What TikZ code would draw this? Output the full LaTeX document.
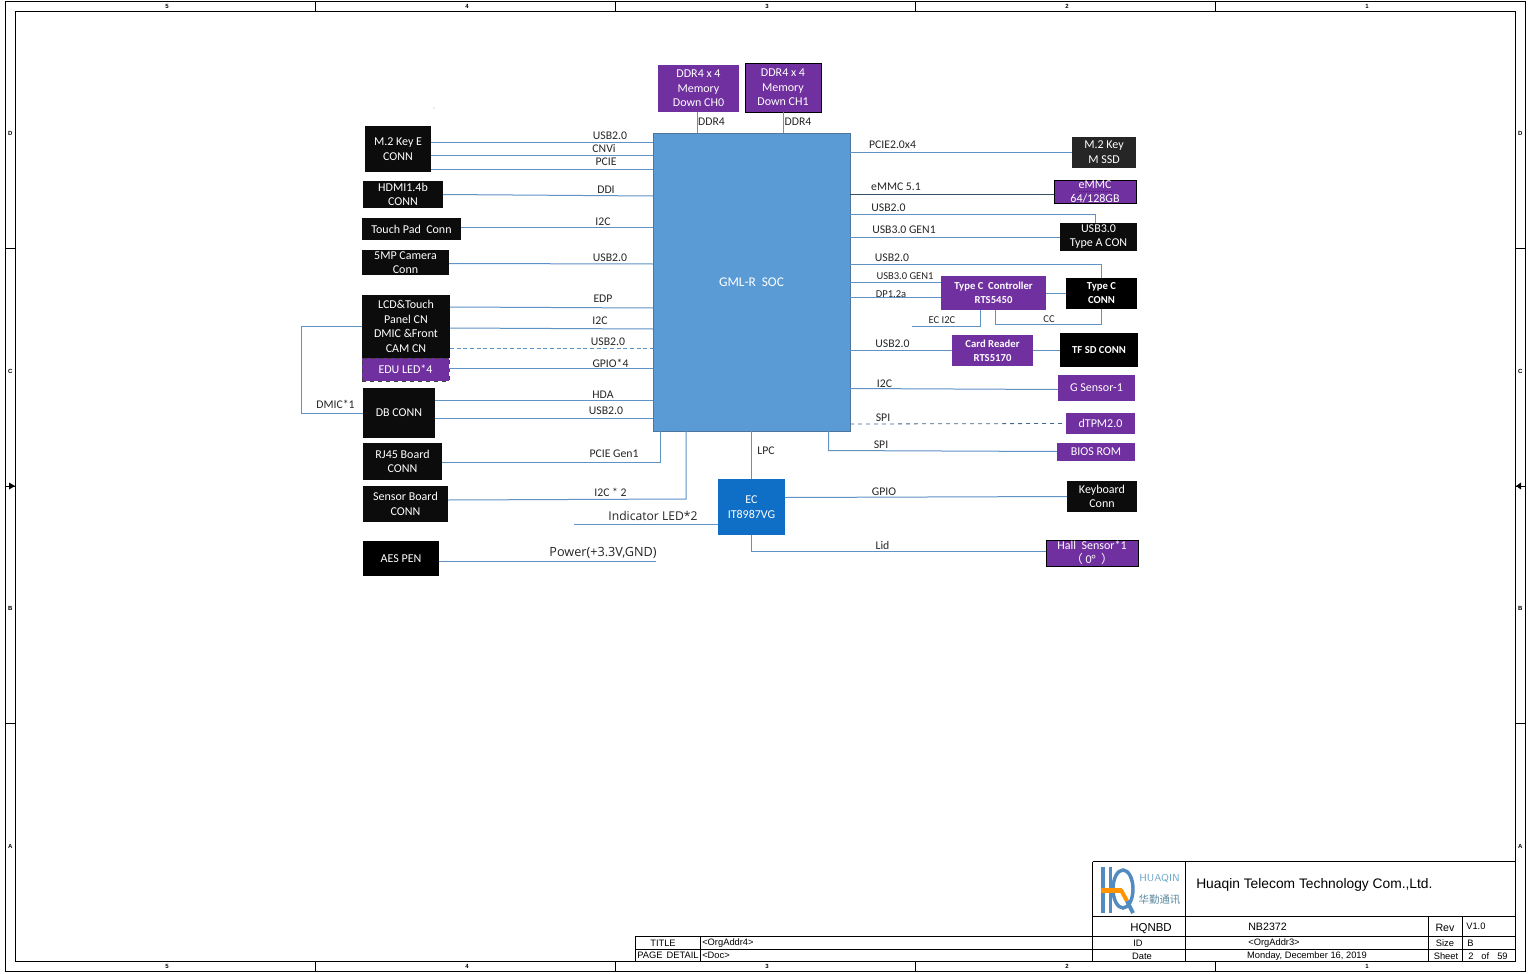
\documentclass[tikz,border=0pt]{standalone}
\usepackage{fontspec}
\setmainfont{Carlito}
\newfontfamily\tbfont{Liberation Sans}
\newfontfamily\cjkfont{Noto Sans CJK SC}
\newfontfamily\openfont{Open Sans}
\usetikzlibrary{calc}
\definecolor{socblue}{HTML}{5B9BD5}
\definecolor{ecblue}{HTML}{0F6FC6}
\definecolor{wire}{HTML}{5F93C4}
\definecolor{purp}{HTML}{7030A0}
\definecolor{nearblack}{HTML}{0C0C0C}
\definecolor{txt}{HTML}{262626}
\definecolor{logotext}{HTML}{6FA9C8}
\newcommand{\bx}[7]{%
  \node[#6,minimum width={(#4-#2)*0.75pt},minimum height={(#5-#3)*0.75pt}] (#1) at ({(#2+#4)/2},{(#3+#5)/2}) {#7};}
\tikzset{
  x=0.75pt,y=-0.75pt,
  basebox/.style={inner sep=0pt,outer sep=0pt,align=center,text=white,font=\fontsize{9}{10.9}\selectfont},
  blk/.style={basebox,fill=nearblack},
  pur/.style={basebox,fill=purp},
  purk/.style={basebox,fill=purp,draw=black,line width=0.7pt},
  wirel/.style={draw=wire,line width=0.75pt},
  lab/.style={inner sep=0pt,text=txt,font=\fontsize{8.8}{10}\selectfont},
  frameline/.style={draw=black,line width=0.7pt},
  tb/.style={inner sep=0pt,text=black,font=\tbfont\fontsize{7}{8}\selectfont},
  tick/.style={inner sep=0pt,text=black,font=\tbfont\bfseries\fontsize{4.5}{5}\selectfont},
}
\begin{document}
\begin{tikzpicture}
\useasboundingbox (0,0) rectangle (1535,974);
\fill[white] (0,0) rectangle (1535,974);
% ---- frame
\draw[frameline] (5,1.5) rectangle (1525,971.5);
\draw[frameline] (15.5,11) rectangle (1515.7,961.5);
\foreach \x in {315,615,915,1215}{
  \draw[frameline] (\x,1.5) -- (\x,11);
  \draw[frameline] (\x,961.5) -- (\x,971.5);}
\foreach \y in {248,723}{
  \draw[frameline] (5,\y) -- (15.5,\y);
  \draw[frameline] (1515.7,\y) -- (1525,\y);}
\draw[frameline] (5,486) -- (15.5,486);
\draw[frameline] (1515.7,486) -- (1525,486);
\fill (15,486) -- (9,482.5) -- (9,489.5) -- cycle;
\fill (1516,486) -- (1521,482.5) -- (1521,489.5) -- cycle;
\foreach \x/\t in {167/5,467/4,767/3,1067/2,1367/1}{
  \node[tick] (tt\t) at (\x,6.5) {\t};
  \node[tick] (tb\t) at (\x,966.5) {\t};}
\foreach \y/\t in {133/D,371/C,608/B,846/A}{
  \node[tick] (tl\t) at (10.3,\y) {\t};
  \node[tick] (tr\t) at (1520.3,\y) {\t};}
% ---- title block
\draw[frameline] (1092.5,861.7) -- (1515.7,861.7);
\draw[frameline] (1092.5,861.7) -- (1092.5,961.5);
\draw[frameline] (1185.3,861.7) -- (1185.3,961.5);
\draw[frameline] (1092.5,916) -- (1515.7,916);
\draw[frameline] (635,936.5) -- (1515.7,936.5);
\draw[frameline] (635,949.3) -- (1515.7,949.3);
\draw[frameline] (635,936.5) -- (635,961.5);
\draw[frameline] (700.7,936.5) -- (700.7,961.5);
\draw[frameline] (1428.3,916) -- (1428.3,961.5);
\draw[frameline] (1462.3,916) -- (1462.3,961.5);
\node[tb,anchor=west,font=\tbfont\fontsize{10.35}{11}\selectfont] (company) at (1196,884.5) {Huaqin Telecom Technology Com.,Ltd.};
\node[tb,font=\tbfont\fontsize{8.6}{10}\selectfont] (hqnbd) at (1151,928.5) {HQNBD};
\node[tb,anchor=west,font=\tbfont\fontsize{8}{10}\selectfont] (nb) at (1248,927) {NB2372};
\node[tb,font=\tbfont\fontsize{8}{10}\selectfont] (rev) at (1445,928) {Rev};
\node[tb,anchor=west] (v) at (1466,926.5) {V1.0};
\node[tb] (idl) at (1138,943) {ID};
\node[tb] (org3) at (1274,943) {<OrgAddr3>};
\node[tb] (size) at (1445,943) {Size};
\node[tb,anchor=west] (b) at (1467,943.5) {B};
\node[tb] (date) at (1142,956) {Date};
\node[tb] (mon) at (1307,956) {Monday, December 16, 2019};
\node[tb] (sheet) at (1446,956) {Sheet};
\node[tb,anchor=west] (of) at (1468,956) {2\hspace{6pt}of\hspace{6pt}59};
\node[tb] (title) at (663,943.5) {TITLE};
\node[tb] (pd) at (668,955.5) {PAGE\hspace{3pt}DETAIL};
\node[tb,anchor=west] (org4) at (702,943.5) {<OrgAddr4>};
\node[tb,anchor=west] (doc) at (702,955.5) {<Doc>};
% ---- logo
\fill[socblue!90!black] (1100.5,867) rectangle (1104.5,913);
\fill[socblue!90!black] (1108.5,867) rectangle (1112,913);
\draw[socblue!90!black,line width=2.6pt] (1133,889) arc[start angle=0,end angle=360,x radius=10,y radius=19];
\fill[orange!85!yellow] (1100.5,888) rectangle (1122,892.5);
\draw[orange!85!yellow,line width=3pt] (1121,890) -- (1127,901);
\draw[socblue!90!black,line width=3pt] (1127,901) -- (1133,913);
\node[inner sep=0pt,text=logotext,font=\sffamily\fontsize{7.6}{9}\selectfont] (logoa) at (1159.5,879) {HUAQIN};
\node[inner sep=0pt,text=logotext!80!black,font=\cjkfont\fontsize{7.8}{9}\selectfont] (logob) at (1159.5,900) {华勤通讯};
% ---- main nodes
\bx{soc}{653}{133}{850}{431}{basebox,fill=socblue,draw=wire!80!black,line width=0.5pt,font=\fontsize{10}{12}\selectfont}{GML-R\ \ SOC}
\bx{ddra}{658}{65}{739}{112}{pur}{DDR4 x 4\\Memory\\Down CH0}
\bx{ddrb}{745}{63}{821}{112}{purk}{DDR4 x 4\\Memory\\Down CH1}
\bx{ec}{718}{479}{785}{535}{basebox,fill=ecblue}{EC\\IT8987VG}
% left column
\bx{mte}{365}{126}{431}{172}{blk}{M.2 Key E\\CONN}
\bx{hdmi}{363}{181}{443}{208}{blk}{HDMI1.4b\\CONN}
\bx{tp}{362}{218}{461}{240}{blk}{Touch Pad\ \ Conn}
\bx{cam}{362}{250}{449}{275}{blk}{5MP Camera\\Conn}
\bx{lcd}{362}{295}{450}{358}{blk}{LCD\&Touch\\Panel CN\\DMIC \&Front\\CAM CN}
\bx{edu}{362}{358}{449}{381}{pur}{EDU LED*4}
\draw[black!75,dashed,line width=0.6pt] (edu.south west) rectangle (edu.north east);
\bx{db}{363}{388}{435}{438}{blk}{DB CONN}
\bx{rj}{363}{443}{442}{480}{blk}{RJ45 Board\\CONN}
\bx{sb}{363}{486}{448}{522}{blk}{Sensor Board\\CONN}
\bx{aes}{363}{541}{439}{576}{basebox,fill=black}{AES PEN}
% right column
\bx{mtm}{1072}{137}{1136}{167.5}{basebox,fill=black!85}{M.2 Key\\M SSD}
\bx{emmc}{1054}{180}{1136}{203.5}{purk}{eMMC\\64/128GB}
\bx{ta}{1060}{223}{1137}{250.5}{blk}{USB3.0\\Type A CON}
\bx{tcc}{941}{276}{1046}{310}{pur,font=\bfseries\fontsize{8}{10.5}\selectfont}{Type C\ \ Controller\\RTS5450}
\bx{tcn}{1066}{278}{1137}{309}{basebox,fill=black,font=\bfseries\fontsize{8}{10.5}\selectfont}{Type C\\CONN}
\bx{cr}{952}{335}{1033}{366}{pur,font=\bfseries\fontsize{8}{10.5}\selectfont}{Card Reader\\RTS5170}
\bx{tf}{1060}{333}{1138}{367}{basebox,fill=black,font=\bfseries\fontsize{8}{10}\selectfont}{TF SD CONN}
\bx{gs}{1058}{375}{1135}{401}{pur}{G Sensor-1}
\bx{tpm}{1066}{413}{1135}{434}{pur}{dTPM2.0}
\bx{bios}{1057}{443}{1135}{461}{pur}{BIOS ROM}
\bx{kb}{1067}{481}{1137}{512}{blk}{Keyboard\\Conn}
\bx{hall}{1046}{540}{1138}{566}{purk}{Hall\ \ Sensor*1\\{\cjkfont（}\hspace{2pt}0°\hspace{4pt}{\cjkfont ）}}
\draw[red!70!black,densely dotted,line width=0.5pt] (1079,191) -- (1112,191);
% free ends
\coordinate (indfree) at (574,524.5);
\coordinate (penfree) at (656,561);
\coordinate (ecifree) at (912,326);
\fill[black!35] (434,108) circle (0.7);
% ---- connectors, left
\path[wirel]
  (mte.east |- 0,142.5) edge (soc.west |- 0,142.5)
  (mte.east |- 0,155.5) edge (soc.west |- 0,155.5)
  (mte.east |- 0,169.5) edge (soc.west |- 0,169.5)
  (hdmi.east |- 0,194.5) edge (soc.west |- 0,196)
  (tp.east |- 0,227.5) edge (soc.west |- 0,227.5)
  (cam.east |- 0,263.5) edge (soc.west |- 0,264)
  (lcd.east |- 0,307) edge (soc.west |- 0,308)
  (lcd.east |- 0,328) edge (soc.west |- 0,329)
  (edu.east |- 0,368.5) edge (soc.west |- 0,368.5)
  (db.east |- 0,400.5) edge (soc.west |- 0,400.5)
  (db.east |- 0,418.5) edge (soc.west |- 0,418.5)
  (ddra.south -| 697.5,0) edge (soc.north -| 697.5,0)
  (ddrb.south -| 783,0) edge (soc.north -| 783,0)
  (soc.south -| 751.5,0) edge (ec.north -| 751.5,0)
  (indfree) edge (ec.west |- indfree)
  (aes.east |- penfree) edge (penfree);
\draw[wirel,densely dashed,line width=0.6pt] (lcd.east |- 0,348.5) -- (soc.west |- 0,348.5);
\draw[wirel] (rj.east |- 0,462.5) -- (660.5,462.5) -- (soc.south -| 660.5,0);
\draw[wirel] (sb.east |- 0,500) -- (686,499) -- (soc.south -| 686,0);
\draw[wirel] (lcd.west |- 0,326) -- (301.5,326) -- (301.5,413) -- (db.west |- 0,413);
% ---- connectors, right
\path[wirel]
  (soc.east |- 0,152) edge (mtm.west |- 0,152)
  (soc.east |- 0,237) edge (ta.west |- 0,237)
  (soc.east |- 0,282.5) edge (tcc.west |- 0,282.5)
  (soc.east |- 0,297) edge (tcc.west |- 0,297)
  (tcc.east |- 0,293) edge (tcn.west |- 0,293)
  (soc.east |- 0,350.5) edge (cr.west |- 0,350.5)
  (cr.east |- 0,350.5) edge (tf.west |- 0,350.5)
  (soc.east |- 0,388.5) edge (gs.west |- 0,389.5)
  (ec.east |- 0,497.5) edge (kb.west |- 0,496.5);
\draw[draw=wire!55!black,line width=0.75pt] (soc.east |- 0,194) -- (emmc.west |- 0,194);
\draw[wirel] (soc.east |- 0,214.5) -- (1095.5,214.5) -- (ta.north -| 1095.5,0);
\draw[wirel] (soc.east |- 0,264.5) -- (1101.5,264.5) -- (tcn.north -| 1101.5,0);
\draw[wirel] (tcn.south -| 1101.5,0) -- (1101.5,324) -- (995,324) -- (tcc.south -| 995,0);
\draw[wirel] (ecifree) -- (980,326) -- (tcc.south -| 980,0);
\draw[draw=wire!70!black,dashed,line width=0.6pt] (soc.east |- 0,424) -- (tpm.west |- 0,423.5);
\draw[wirel] (soc.south -| 828.5,0) -- (828.5,450.5) -- (bios.west |- 0,451.5);
\draw[wirel] (ec.south -| 751.5,0) -- (751.5,551.5) -- (hall.west |- 0,551.5);
% ---- labels
\foreach \n/\x/\y/\t in {
 la/610/136/USB2.0, lb/604/149/CNVi, lc/606/162/PCIE, ld/606/190/DDI, le/603/222/I2C,
 lf/610/258/USB2.0, lg/603/299/EDP, lh/600/321/I2C, li/608/342/USB2.0, lj/610.5/363/GPIO*4,
 lk/603/395/HDA, ll/606/411/USB2.0, lm/614/454/PCIE Gen1, ln/610.5/492/I2C * 2,
 lo/335.5/404/DMIC*1, lp/711.5/122/DDR4, lq/798/122/DDR4, lr/766/451/LPC,
 sa/892.5/145/PCIE2.0x4, sb1/896/187/eMMC 5.1, sc/888.5/208/USB2.0, sd/904/230/USB3.0 GEN1,
 se/892/258/USB2.0, sg/892.5/344/USB2.0, sh/884.5/384/I2C, si/883/418/SPI, sj/881/445/SPI,
 sk/884/492/GPIO, sl/882.5/545/Lid}{
  \node[lab] (\n) at (\x,\y) {\t};}
\node[lab,font=\fontsize{7.9}{9}\selectfont] (sf) at (905,276) {USB3.0 GEN1};
\node[lab,font=\fontsize{7.9}{9}\selectfont] (sm) at (891,294) {DP1.2a};
\node[lab,font=\fontsize{7.9}{9}\selectfont] (sn) at (942,320) {EC I2C};
\node[lab,font=\fontsize{7.9}{9}\selectfont] (so) at (1049,319) {CC};
\node[lab,font=\openfont\fontsize{9.1}{10}\selectfont] (ind) at (653,516) {Indicator LED*2};
\node[lab,font=\openfont\fontsize{9.5}{10}\selectfont] (pw) at (603,552.5) {Power(+3.3V,GND)};
\end{tikzpicture}
\end{document}
